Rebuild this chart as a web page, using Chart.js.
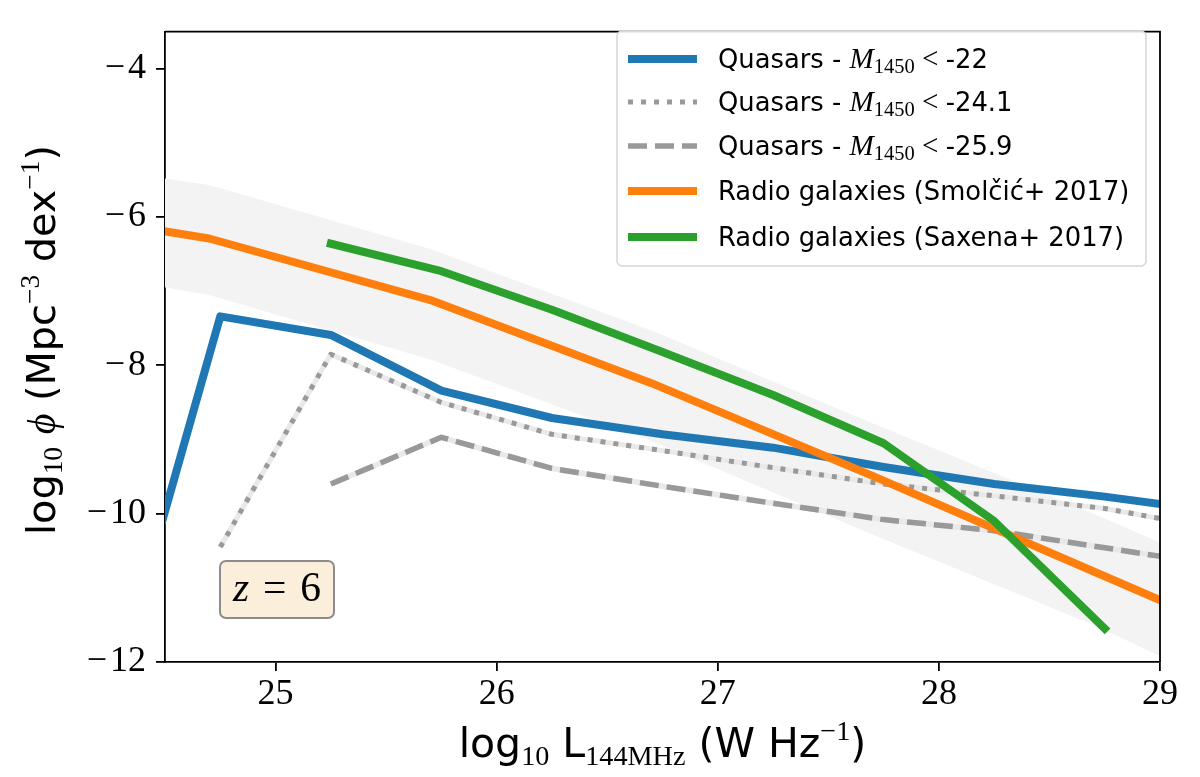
<!DOCTYPE html>
<html>
<head>
<meta charset="utf-8">
<script src="https://cdn.jsdelivr.net/npm/chart.js@4.4.1/dist/chart.umd.min.js"></script>
<style>
  html, body { margin: 0; padding: 0; background: #fff; }
  #wrap { width: 1200px; height: 777px; }
</style>
</head>
<body>
<div id="wrap"><canvas id="lfChart" width="1200" height="777"></canvas></div>
<script>
// quasar radio LFs, 0.5 dex bins
const qsoL = [24.25, 24.75, 25.25, 25.75, 26.25, 26.75, 27.25, 27.75, 28.25, 28.75, 29.25];
const qso22 = [-12.6, -7.34, -7.59, -8.34, -8.71, -8.93, -9.11, -9.37, -9.6, -9.77, -9.97];
const qso241 = [null, -10.45, -7.85, -8.5, -8.93, -9.15, -9.38, -9.6, -9.76, -9.93, -10.2];
const qso259 = [null, null, -9.6, -8.97, -9.39, -9.63, -9.86, -10.08, -10.23, -10.46, -10.69];

// radio galaxies, Smolcic+ 2017 (with spread)
const smolL = [24.2, 24.7, 25.7, 26.7, 27.7, 28.7, 29.7];
const smolPhi = [-6.05, -6.29, -7.12, -8.24, -9.49, -10.78, -12.07];
const smolHi = [-5.35, -5.57, -6.43, -7.53, -8.78, -10.0, -11.3];
const smolLo = [-6.8, -7.05, -7.92, -9.02, -10.28, -11.5, -12.9];

// radio galaxies, Saxena+ 2017
const saxL = [25.25, 25.75, 26.25, 26.75, 27.25, 27.75, 28.25, 28.75];
const saxPhi = [-6.36, -6.73, -7.25, -7.82, -8.4, -9.05, -10.1, -11.55];

const xTicks = [25, 26, 27, 28, 29];
const yTicks = [-12, -10, -8, -6, -4];

const SANS = '"DejaVu Sans", sans-serif';
const SERIF = '"Liberation Serif", "DejaVu Serif", serif';

const pts = (xs, ys) => xs.map((x, i) => ({ x: x, y: ys[i] })).filter(p => p.y !== null);

const fontOf = (s, k) => (s.it ? 'italic ' : '') + (s.sz * k).toFixed(1) + 'px ' + s.fam;

function richWidth(ctx, segs, k) {
  let w = 0;
  segs.forEach(s => { ctx.font = fontOf(s, k); w += ctx.measureText(s.t).width; });
  return w;
}

// scale factor so the run of text is `target` px wide
const fitScale = (ctx, segs, target) => target / richWidth(ctx, segs, 1);

function drawRich(ctx, segs, x, y, k, align) {
  const w = richWidth(ctx, segs, k);
  let cx = align === 'left' ? x : x - w / 2;
  ctx.textAlign = 'left';
  ctx.textBaseline = 'alphabetic';
  segs.forEach(s => {
    ctx.font = fontOf(s, k);
    ctx.fillText(s.t, cx, y + (s.dy || 0) * k);
    cx += ctx.measureText(s.t).width;
  });
}

const quasarText = lim => [
  { t: 'Quasars - ', fam: SANS, sz: 24 },
  { t: 'M', fam: SERIF, sz: 27, it: true },
  { t: '1450', fam: SERIF, sz: 19, dy: 5 },
  { t: ' < ', fam: SERIF, sz: 27 },
  { t: lim, fam: SANS, sz: 24 }
];

const legendItems = [
  { color: '#1f77b4', width: 8, dash: [], segs: quasarText('-22') },
  { color: '#999999', width: 5, dash: [5, 8], segs: quasarText('-24.1') },
  { color: '#999999', width: 5.5, dash: [19, 8], segs: quasarText('-25.9') },
  { color: '#ff7f0e', width: 8, dash: [], segs: [{ t: 'Radio galaxies (Smolčić+ 2017)', fam: SANS, sz: 24 }] },
  { color: '#2ca02c', width: 8, dash: [], segs: [{ t: 'Radio galaxies (Saxena+ 2017)', fam: SANS, sz: 24 }] }
];

const xTitle = [
  { t: 'log', fam: SANS, sz: 32 },
  { t: '10', fam: SERIF, sz: 22, dy: 6 },
  { t: ' L', fam: SANS, sz: 32 },
  { t: '144MHz', fam: SERIF, sz: 22, dy: 6 },
  { t: ' (W Hz', fam: SANS, sz: 32 },
  { t: '−1', fam: SERIF, sz: 22, dy: -13 },
  { t: ')', fam: SANS, sz: 32 }
];

const yTitle = [
  { t: 'log', fam: SANS, sz: 32 },
  { t: '10', fam: SERIF, sz: 22, dy: 6 },
  { t: ' ', fam: SANS, sz: 32 },
  { t: 'ϕ', fam: SERIF, sz: 32, it: true },
  { t: ' (Mpc', fam: SANS, sz: 32 },
  { t: '−3', fam: SERIF, sz: 22, dy: -13 },
  { t: ' dex', fam: SANS, sz: 32 },
  { t: '−1', fam: SERIF, sz: 22, dy: -13 },
  { t: ')', fam: SANS, sz: 32 }
];

const zLabel = [
  { t: 'z', fam: SERIF, sz: 32, it: true },
  { t: '\u2004=\u20046', fam: SERIF, sz: 32 }
];

const decorations = {
  id: 'decorations',
  afterDraw(chart) {
    const ctx = chart.ctx;
    const a = chart.chartArea;
    ctx.save();

    // top and right spines
    ctx.strokeStyle = '#000';
    ctx.lineWidth = 1.8;
    ctx.beginPath();
    ctx.moveTo(a.left, a.top);
    ctx.lineTo(a.right, a.top);
    ctx.lineTo(a.right, a.bottom);
    ctx.stroke();

    // legend
    ctx.beginPath();
    ctx.roundRect(617, 31, 529, 235, 5);
    ctx.fillStyle = 'rgba(255,255,255,0.85)';
    ctx.fill();
    ctx.strokeStyle = '#d6d6d6';
    ctx.lineWidth = 1.5;
    ctx.stroke();

    const kLeg = fitScale(ctx, legendItems[3].segs, 412);
    const rows = [59, 102, 146, 191, 237];
    legendItems.forEach((it, i) => {
      const ry = rows[i];
      ctx.save();
      ctx.strokeStyle = it.color;
      ctx.lineWidth = it.width;
      ctx.lineCap = 'butt';
      ctx.setLineDash(it.dash);
      ctx.beginPath();
      ctx.moveTo(628, ry);
      ctx.lineTo(697, ry);
      ctx.stroke();
      ctx.restore();
      ctx.fillStyle = '#000';
      drawRich(ctx, it.segs, 718, ry + 9, kLeg, 'left');
    });

    // redshift label
    ctx.beginPath();
    ctx.roundRect(220, 561, 114, 57, 6);
    ctx.fillStyle = '#fbeedb';
    ctx.fill();
    ctx.strokeStyle = '#8c8c8c';
    ctx.lineWidth = 2;
    ctx.stroke();
    ctx.fillStyle = '#000';
    drawRich(ctx, zLabel, 277, 601, fitScale(ctx, zLabel, 88));

    // axis titles
    drawRich(ctx, xTitle, (a.left + a.right) / 2, 757, fitScale(ctx, xTitle, 408));

    const kY = fitScale(ctx, yTitle, 390);
    ctx.translate(55, 340);
    ctx.rotate(-Math.PI / 2);
    drawRich(ctx, yTitle, 0, 0, kY);

    ctx.restore();
  }
};

const lineBase = { pointRadius: 0, tension: 0, fill: false, clip: 0, borderJoinStyle: 'round' };

new Chart(document.getElementById('lfChart'), {
  type: 'line',
  data: {
    datasets: [
      Object.assign({}, lineBase, { data: pts(saxL, saxPhi), borderColor: '#2ca02c', borderWidth: 8, borderCapStyle: 'square', order: 0 }),
      Object.assign({}, lineBase, { data: pts(smolL, smolPhi), borderColor: '#ff7f0e', borderWidth: 8, order: 1 }),
      Object.assign({}, lineBase, { data: pts(qsoL, qso259), borderColor: '#999999', borderWidth: 5.5, borderDash: [19, 8], order: 2 }),
      Object.assign({}, lineBase, { data: pts(qsoL, qso241), borderColor: '#999999', borderWidth: 5, borderDash: [5, 8], order: 3 }),
      Object.assign({}, lineBase, { data: pts(qsoL, qso22), borderColor: '#1f77b4', borderWidth: 8, order: 4 }),
      Object.assign({}, lineBase, { data: pts(qsoL, qso259), borderColor: '#e9e9e9', borderWidth: 5.5, order: 5 }),
      Object.assign({}, lineBase, { data: pts(qsoL, qso241), borderColor: '#e9e9e9', borderWidth: 5, order: 5 }),
      Object.assign({}, lineBase, { data: pts(smolL, smolHi), borderWidth: 0, borderColor: 'rgba(0,0,0,0)', backgroundColor: '#f3f3f3', fill: '+1', order: 6 }),
      Object.assign({}, lineBase, { data: pts(smolL, smolLo), borderWidth: 0, borderColor: 'rgba(0,0,0,0)', order: 6 })
    ]
  },
  options: {
    responsive: false,
    animation: false,
    events: [],
    layout: { padding: { left: 0, right: 40, top: 20, bottom: 0 } },
    plugins: {
      legend: { display: false },
      tooltip: { enabled: false }
    },
    scales: {
      x: {
        type: 'linear',
        min: 24.5,
        max: 29,
        afterFit: s => { s.height = 115; },
        afterBuildTicks: s => { s.ticks = xTicks.map(v => ({ value: v })); },
        grid: { drawOnChartArea: false, drawTicks: true, tickLength: 9, color: '#000', lineWidth: 1.8 },
        border: { display: true, color: '#000', width: 1.8 },
        ticks: {
          color: '#000',
          padding: 2,
          maxRotation: 0,
          font: { family: SERIF, size: 36 },
          callback: v => String(v)
        }
      },
      y: {
        type: 'linear',
        min: -12,
        max: -3.5,
        afterFit: s => { s.width = 165; },
        afterBuildTicks: s => { s.ticks = yTicks.map(v => ({ value: v })); },
        grid: { drawOnChartArea: false, drawTicks: true, tickLength: 9, color: '#000', lineWidth: 1.8 },
        border: { display: true, color: '#000', width: 1.8 },
        ticks: {
          color: '#000',
          padding: 10,
          font: { family: SERIF, size: 36 },
          callback: v => (v < 0 ? '−\u200a' + Math.abs(v) : String(v))
        }
      }
    }
  },
  plugins: [decorations]
});
</script>
</body>
</html>
